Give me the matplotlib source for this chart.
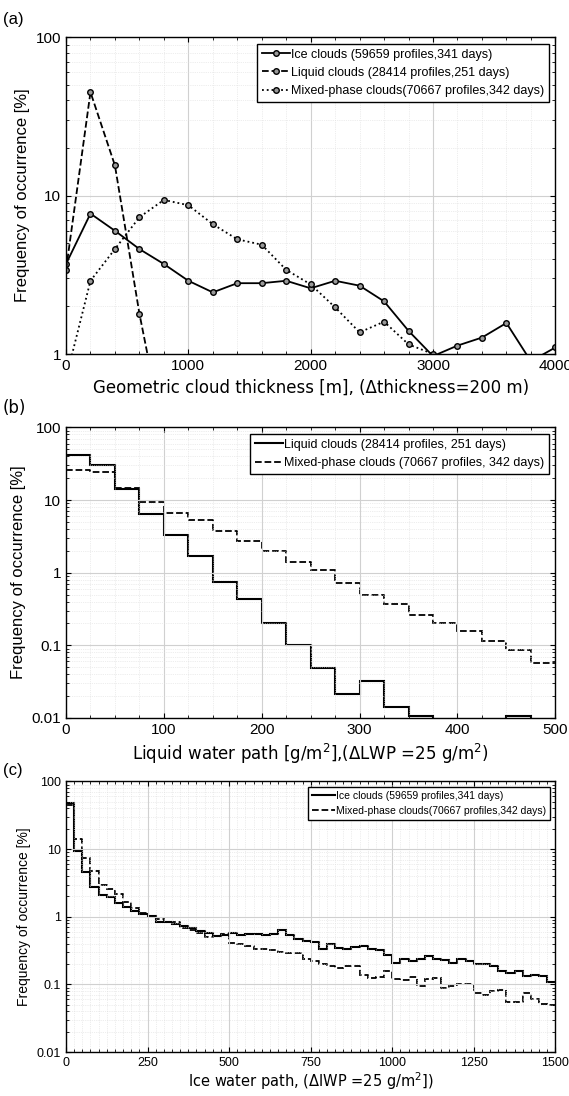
import numpy as np
import matplotlib
matplotlib.use('Agg')
import matplotlib.pyplot as plt

plt.rcParams['font.family'] = ['Liberation Sans', 'DejaVu Sans']

# (a) geometric thickness, 200 m bins
thick = list(range(0, 4001, 200))
ice_a = [3.7, 7.7, 6.0, 4.6, 3.7, 2.9, 2.45, 2.8, 2.8, 2.9, 2.6, 2.9, 2.7, 2.15, 1.4, 0.97, 1.13, 1.27, 1.57, 0.9, 1.1]
liq_a = [3.4, 45, 15.5, 1.8, 0.3, 0.1, 0.05, 0.02, 0.01, 0.01, 0.01, 0.01, 0.01, 0.01, 0.01, 0.01, 0.01, 0.01, 0.01, 0.01, 0.01]
mix_a = [0.7, 2.9, 4.6, 7.3, 9.4, 8.7, 6.6, 5.3, 4.9, 3.4, 2.75, 1.97, 1.37, 1.6, 1.15, 1.0, 0.8, 0.6, 0.5, 0.4, 0.3]

# (b) LWP, 25 g/m2 bins
lwp_edges = list(range(0, 501, 25))
liq_b = [42, 30, 14, 6.5, 3.3, 1.7, 0.75, 0.44, 0.2, 0.1, 0.049, 0.021, 0.032, 0.014, 0.0105, 0.009, 0.009, 0.009, 0.0105, 0.009]
mix_b = [26, 24, 14.5, 9.3, 6.7, 5.3, 3.8, 2.7, 2.0, 1.4, 1.1, 0.72, 0.5, 0.37, 0.26, 0.2, 0.155, 0.115, 0.085, 0.057]

# (c) IWP, 25 g/m2 bins
iwp_edges = list(range(0, 1501, 25))
ice_c = [48, 9.3, 4.6, 2.8, 2.1, 1.95, 1.6, 1.4, 1.2, 1.1, 1.02, 0.85, 0.85, 0.78, 0.73,
         0.68, 0.62, 0.57, 0.52, 0.53, 0.58, 0.53, 0.55, 0.55, 0.54, 0.55, 0.63, 0.53, 0.47, 0.44,
         0.42, 0.34, 0.40, 0.35, 0.34, 0.36, 0.37, 0.33, 0.32, 0.27, 0.21, 0.24, 0.22, 0.24, 0.26,
         0.24, 0.23, 0.21, 0.24, 0.22, 0.20, 0.20, 0.19, 0.16, 0.15, 0.16, 0.135, 0.14, 0.135, 0.11]
mix_c = [45, 14, 7.3, 4.7, 3.0, 2.6, 2.2, 1.65, 1.35, 1.15, 1.0, 0.93, 0.85, 0.83, 0.68,
         0.63, 0.58, 0.5, 0.52, 0.55, 0.41, 0.40, 0.37, 0.34, 0.33, 0.32, 0.30, 0.29, 0.29, 0.24,
         0.22, 0.2, 0.185, 0.175, 0.19, 0.19, 0.14, 0.125, 0.13, 0.16, 0.12, 0.115, 0.13, 0.095, 0.12,
         0.125, 0.088, 0.095, 0.1, 0.1, 0.074, 0.07, 0.079, 0.083, 0.056, 0.056, 0.076, 0.062, 0.052, 0.05]


def style(ax):
    ax.set_yscale('log')
    ax.grid(True, which='major', color='#d0d0d0', lw=0.8)
    ax.grid(True, which='minor', color='#dcdcdc', lw=0.5, ls=':')
    ax.tick_params(which='both', direction='in', top=True, right=True)
    ax.yaxis.set_major_formatter(matplotlib.ticker.FuncFormatter(lambda v, p: '%g' % v))
    for s in ax.spines.values():
        s.set_linewidth(1.0)


fig = plt.figure(figsize=(5.69, 10.96), dpi=100)
ax1 = fig.add_axes([0.116, 0.677, 0.86, 0.289])
ax2 = fig.add_axes([0.116, 0.345, 0.86, 0.265])
ax3 = fig.add_axes([0.116, 0.04, 0.86, 0.247])

mk = dict(marker='o', ms=4, mfc='#999999', mec='k', mew=1, color='k', lw=1.3)
ax1.plot(thick, ice_a, ls='-', label='Ice clouds (59659 profiles,341 days)', **mk)
ax1.plot(thick, liq_a, ls='--', label='Liquid clouds (28414 profiles,251 days)', **mk)
ax1.plot(thick, mix_a, ls=':', label='Mixed-phase clouds(70667 profiles,342 days)', **mk)
style(ax1)
ax1.set_xlim(0, 4000)
ax1.set_ylim(1, 100)
ax1.set_xticks(range(0, 4001, 1000))
ax1.set_xticks(range(0, 4001, 200), minor=True)
ax1.tick_params(labelsize=11)
ax1.set_xlabel('Geometric cloud thickness [m], (\u0394thickness=200 m)', fontsize=12, family='DejaVu Sans')
ax1.set_ylabel('Frequency of occurrence [%]', fontsize=12)
ax1.legend(loc='upper right', fontsize=9, fancybox=False, edgecolor='k', framealpha=1,
           handlelength=2.2, borderaxespad=0.5, handletextpad=0.1)
fig.text(0.005, 0.978, '(a)', fontsize=12)

ax2.stairs(liq_b, lwp_edges, color='k', lw=1.5, ls='-', baseline=None, label='Liquid clouds (28414 profiles, 251 days)')
ax2.stairs(mix_b, lwp_edges, color='k', lw=1.3, ls='--', baseline=None, label='Mixed-phase clouds (70667 profiles, 342 days)')
style(ax2)
ax2.set_xlim(0, 500)
ax2.set_ylim(0.01, 100)
ax2.set_xticks(range(0, 501, 100))
ax2.set_xticks(range(0, 501, 25), minor=True)
ax2.tick_params(labelsize=11)
ax2.set_xlabel('Liquid water path [g/m$^2$],(\u0394LWP =25 g/m$^2$)', fontsize=12, family='DejaVu Sans')
ax2.set_ylabel('Frequency of occurrence [%]', fontsize=12)
ax2.legend(loc='upper right', fontsize=9, fancybox=False, edgecolor='k', framealpha=1,
           handlelength=2.2, borderaxespad=0.5, handletextpad=0.1)
fig.text(0.005, 0.623, '(b)', fontsize=12, family='DejaVu Sans')

ax3.stairs(ice_c, iwp_edges, color='k', lw=1.5, ls='-', baseline=None, label='Ice clouds (59659 profiles,341 days)')
ax3.stairs(mix_c, iwp_edges, color='k', lw=1.3, ls='--', baseline=None, label='Mixed-phase clouds(70667 profiles,342 days)')
style(ax3)
ax3.set_xlim(0, 1500)
ax3.set_ylim(0.01, 100)
ax3.set_xticks(range(0, 1501, 250))
ax3.set_xticks(range(0, 1501, 25), minor=True)
ax3.tick_params(labelsize=9)
ax3.set_xlabel('Ice water path, (\u0394IWP =25 g/m$^2$])', fontsize=10.5, family='DejaVu Sans', labelpad=1)
ax3.set_ylabel('Frequency of occurrence [%]', fontsize=10)
ax3.legend(loc='upper right', fontsize=7.5, fancybox=False, edgecolor='k', framealpha=1,
           handlelength=2.2, borderaxespad=0.5, handletextpad=0.1)
fig.text(0.005, 0.293, '(c)', fontsize=12)

fig.savefig('out.png', dpi=100)
